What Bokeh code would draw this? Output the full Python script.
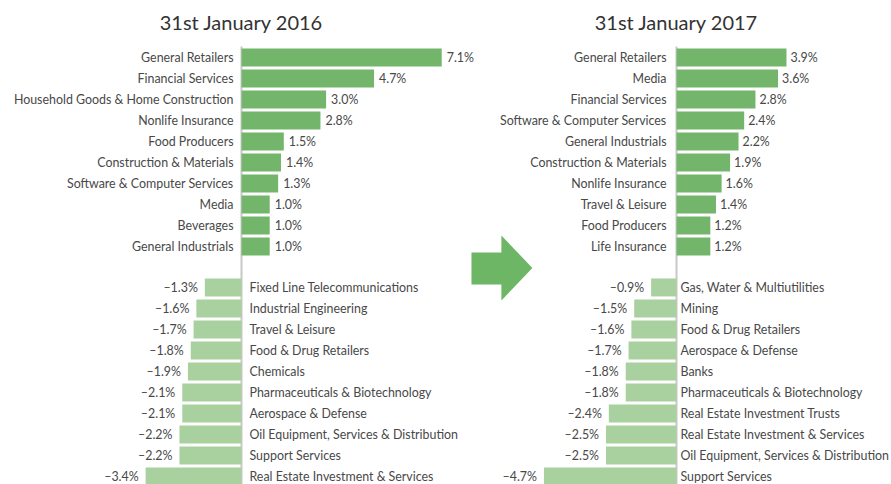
from bokeh.plotting import figure
from bokeh.models import Range1d, ColumnDataSource
from bokeh.core.properties import value
from bokeh.embed import file_html
from bokeh.resources import INLINE

# ---- data ----
title_2016 = "31st January 2016"
top_cats_2016 = ["General Retailers", "Financial Services", "Household Goods & Home Construction",
                 "Nonlife Insurance", "Food Producers", "Construction & Materials",
                 "Software & Computer Services", "Media", "Beverages", "General Industrials"]
top_vals_2016 = [7.1, 4.7, 3.0, 2.8, 1.5, 1.4, 1.3, 1.0, 1.0, 1.0]
bot_cats_2016 = ["Fixed Line Telecommunications", "Industrial Engineering", "Travel & Leisure",
                 "Food & Drug Retailers", "Chemicals", "Pharmaceuticals & Biotechnology",
                 "Aerospace & Defense", "Oil Equipment, Services & Distribution",
                 "Support Services", "Real Estate Investment & Services"]
bot_vals_2016 = [-1.3, -1.6, -1.7, -1.8, -1.9, -2.1, -2.1, -2.2, -2.2, -3.4]

title_2017 = "31st January 2017"
top_cats_2017 = ["General Retailers", "Media", "Financial Services", "Software & Computer Services",
                 "General Industrials", "Construction & Materials", "Nonlife Insurance",
                 "Travel & Leisure", "Food Producers", "Life Insurance"]
top_vals_2017 = [3.9, 3.6, 2.8, 2.4, 2.2, 1.9, 1.6, 1.4, 1.2, 1.2]
bot_cats_2017 = ["Gas, Water & Multiutilities", "Mining", "Food & Drug Retailers",
                 "Aerospace & Defense", "Banks", "Pharmaceuticals & Biotechnology",
                 "Real Estate Investment Trusts", "Real Estate Investment & Services",
                 "Oil Equipment, Services & Distribution", "Support Services"]
bot_vals_2017 = [-0.9, -1.5, -1.6, -1.7, -1.8, -1.8, -2.4, -2.5, -2.5, -4.7]

# ---- style / layout ----
POS = "#73b66b"
NEG = "#a9d1a0"
ARROW = "#6db666"
AXIS = "#c8c8c8"
TXT = "#484848"
TITLE = "#333333"
FONT = value("Lato")
W, H = 891, 484
PX_PER_UNIT = 28.2
LEFT_AXIS_PX, RIGHT_AXIS_PX = 241, 676
ROW_PX = 21
ROW0_PX = 57
GAP_OFFSET = 10.95
Y_TOP = ROW0_PX / ROW_PX
Y_BOT = -(H - ROW0_PX) / ROW_PX

p = figure(width=W, height=H, output_backend="svg", toolbar_location=None,
           x_range=Range1d(-LEFT_AXIS_PX / PX_PER_UNIT, (W - LEFT_AXIS_PX) / PX_PER_UNIT),
           y_range=Range1d(Y_BOT, Y_TOP),
           min_border=0, outline_line_color=None, background_fill_color="white",
           border_fill_color="white")
p.extra_x_ranges = {"right": Range1d(-RIGHT_AXIS_PX / PX_PER_UNIT, (W - RIGHT_AXIS_PX) / PX_PER_UNIT)}
p.axis.visible = False
p.grid.visible = False


def fmt(v):
    s = f"{abs(v):.1f}%"
    return ("\u2013" + s) if v < 0 else s


def panel(rname, title, tcats, tvals, bcats, bvals, top_off, bot_off, pos_val_off):
    ty = [-i for i in range(len(tvals))]
    by = [-(GAP_OFFSET + j) for j in range(len(bvals))]
    tsrc = ColumnDataSource(dict(y=ty, v=tvals, cat=tcats, lab=[fmt(v) for v in tvals]))
    bsrc = ColumnDataSource(dict(y=by, v=bvals, cat=bcats, lab=[fmt(v) for v in bvals]))

    p.segment(x0=[0], y0=[0.52], x1=[0], y1=[Y_BOT - 1], line_color=AXIS, line_width=2,
              x_range_name=rname)
    p.hbar(y="y", left=0, right="v", height=0.857, source=tsrc, fill_color=POS,
           line_color=None, x_range_name=rname)
    p.hbar(y="y", left=0, right="v", height=0.857, source=bsrc, fill_color=NEG,
           line_color=None, x_range_name=rname)

    common = dict(text_font=FONT, text_font_size="12.4px", text_color=TXT,
                  text_baseline="middle", x_range_name=rname)
    p.text(x=0, y="y", text="cat", source=tsrc, x_offset=top_off, text_align="right", **common)
    p.text(x="v", y="y", text="lab", source=tsrc, x_offset=pos_val_off, text_align="left", **common)
    p.text(x=0, y="y", text="cat", source=bsrc, x_offset=bot_off, text_align="left", **common)
    p.text(x="v", y="y", text="lab", source=bsrc, x_offset=-7, text_align="right", **common)

    p.text(x=[0], y=[1.667], text=[title], text_font=FONT, text_font_size="20px",
           text_color=TITLE, text_align="center", text_baseline="middle", x_range_name=rname)


panel("default", title_2016, top_cats_2016, top_vals_2016, bot_cats_2016, bot_vals_2016, -8, 8, 5)
panel("right", title_2017, top_cats_2017, top_vals_2017, bot_cats_2017, bot_vals_2017, -10, 4, 4)

# decorative arrow between the panels (in right panel's units)
arrow_x = [-7.27, -6.21, -6.21, -5.11, -6.21, -6.21, -7.27]
arrow_y = [-9.29, -9.29, -8.48, -10.02, -11.57, -10.81, -10.81]
p.patch(arrow_x, arrow_y, fill_color=ARROW, line_color=None, x_range_name="right")

open("out.html", "w").write(file_html(p, INLINE))
